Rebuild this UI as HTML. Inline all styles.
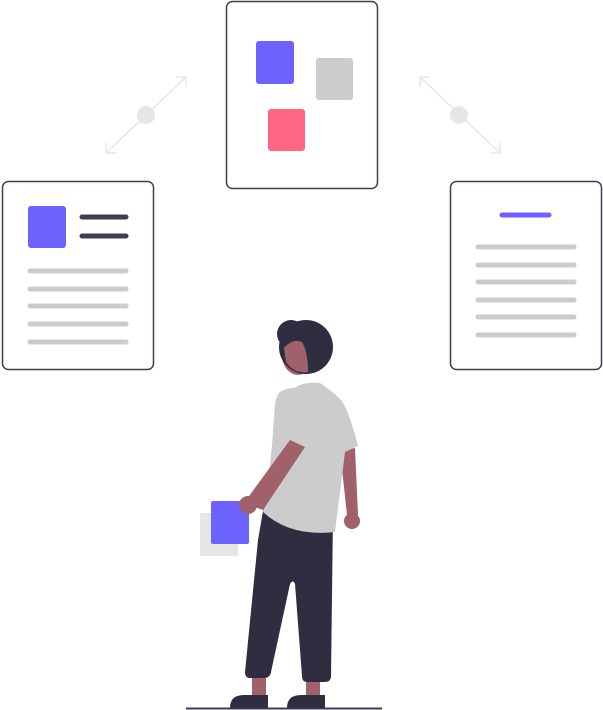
<!DOCTYPE html>
<html><head><style>html,body{margin:0;padding:0;background:#fff}svg{display:block}</style></head>
<body>
<svg width="603" height="710" viewBox="0 0 603 710" xmlns="http://www.w3.org/2000/svg">
<g fill="#fff" stroke="#3f3d56" stroke-width="1.5">
<rect x="226.5" y="1.5" width="151" height="187" rx="6"/>
<rect x="2.5" y="181.5" width="151" height="188" rx="6"/>
<rect x="450.5" y="181.5" width="151" height="188" rx="6"/>
</g>
<rect x="256" y="41" width="38" height="43" rx="3" fill="#6c63ff"/>
<rect x="316" y="58" width="37" height="42" rx="3" fill="#ccc"/>
<rect x="268" y="109" width="37" height="42" rx="3" fill="#ff6584"/>
<rect x="28" y="206" width="38" height="42" rx="3" fill="#6c63ff"/>
<g stroke-linecap="round" stroke-width="5">
<line x1="82" y1="217" x2="126" y2="217" stroke="#3f3d56"/>
<line x1="82" y1="236" x2="126" y2="236" stroke="#3f3d56"/>
<g stroke="#ccc"><line x1="30" y1="271" x2="126" y2="271"/><line x1="30" y1="289" x2="126" y2="289"/><line x1="30" y1="306" x2="126" y2="306"/><line x1="30" y1="324" x2="126" y2="324"/><line x1="30" y1="342" x2="126" y2="342"/></g>
<line x1="502" y1="215" x2="549" y2="215" stroke="#6c63ff"/>
<g stroke="#ccc"><line x1="478" y1="247" x2="574" y2="247"/><line x1="478" y1="265" x2="574" y2="265"/><line x1="478" y1="282" x2="574" y2="282"/><line x1="478" y1="300" x2="574" y2="300"/><line x1="478" y1="317" x2="574" y2="317"/><line x1="478" y1="335" x2="574" y2="335"/></g>
</g>
<g stroke="#e6e6e6" stroke-width="1.5" fill="none">
<line x1="106" y1="153" x2="186" y2="77"/><polyline points="176,77 186,77 186,87"/><polyline points="106,143 106,153 116,153"/>
<line x1="420" y1="77" x2="500" y2="153"/><polyline points="430,77 420,77 420,87"/><polyline points="500,143 500,153 490,153"/>
</g>
<circle cx="146" cy="115" r="9" fill="#e6e6e6"/><circle cx="459" cy="115" r="9" fill="#e6e6e6"/>
<line x1="186" y1="708.5" x2="382" y2="708.5" stroke="#3f3d56" stroke-width="2"/>
<rect x="200" y="513" width="38" height="43" rx="2" fill="#e6e6e6"/>
<g fill="#a0616a">
<rect x="252" y="670" width="14" height="30"/><rect x="306" y="672" width="14" height="28"/>
<polygon points="340,450 355,448 358,515 347,515"/>
<circle cx="352" cy="521" r="8"/>
<ellipse cx="298" cy="355" rx="16" ry="20"/>
</g>
<path d="M230,708 q0-13 14-13 h24 v13 z M287,708 q0-13 14-13 h24 v13z" fill="#2f2e41"/>
<path d="M264,505 L333,515 L331,676 q0,6-6,6 h-18 q-5,0-5-6 L295,584 q-2-5-5,0 L271,672 q-1,6-7,6 h-14 q-5,0-5-6 L258,540z" fill="#2f2e41"/>
<path d="M280,392 q6-4 14-4 q12-7 26-5 q12,8 20,16 q8,8 18,47 l-13,6 l-10,80 q-45,5-72-20 l6-37 l3-30 l3-41 q1-8 5-12z" fill="#ccc"/>
<polygon points="290,440 305,447 263,510 244,503" fill="#a0616a"/>
<rect x="211" y="501" width="38" height="43" rx="2" fill="#6c63ff"/>
<circle cx="248" cy="505" r="9" fill="#a0616a"/>
<circle cx="306" cy="347" r="27" fill="#2f2e41"/>
<circle cx="291" cy="334" r="14" fill="#2f2e41"/>
<path d="M284,348 q8-10 18-6 q6,10 6,30 q-14,2-22-10z" fill="#a0616a"/>
</svg>
</body></html>
